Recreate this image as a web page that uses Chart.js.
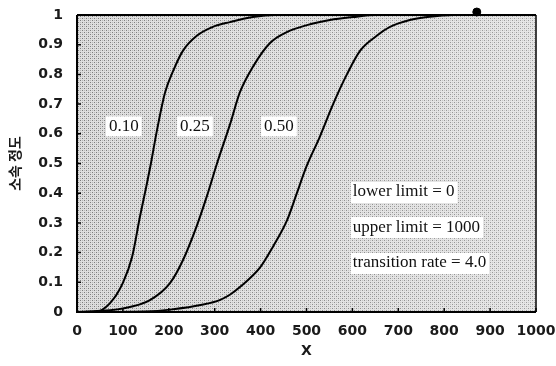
<!DOCTYPE html>
<html><head><meta charset="utf-8">
<script src="https://cdn.jsdelivr.net/npm/chart.js@4/dist/chart.umd.min.js"></script>
<style>html,body{margin:0;padding:0;background:#fff;}canvas{display:block;}</style>
</head><body>
<canvas id="c" width="556" height="366"></canvas>
<script>
// ---- data ----
const curve010X = [0, 39, 72, 100, 120, 137, 152, 161, 174, 192, 209, 231, 261, 296, 333, 383, 430, 500, 1000];
const curve010Y = [0, 0, 0.03, 0.098, 0.185, 0.32, 0.43, 0.50, 0.61, 0.74, 0.81, 0.88, 0.93, 0.96, 0.976, 0.993, 1.0, 1.0, 1.0];

const curve025X = [0, 100, 159, 203, 231, 261, 283, 305, 333, 355, 383, 420, 458, 501, 551, 601, 650, 1000];
const curve025Y = [0, 0.012, 0.04, 0.098, 0.175, 0.29, 0.39, 0.50, 0.63, 0.74, 0.825, 0.905, 0.943, 0.966, 0.983, 0.993, 1.0, 1.0];

const curve050X = [0, 150, 203, 275, 312, 333, 355, 399, 427, 458, 479, 500, 529, 558, 588, 617, 653, 682, 725, 763, 820, 1000];
const curve050Y = [0, 0.002, 0.008, 0.025, 0.041, 0.058, 0.084, 0.15, 0.22, 0.31, 0.40, 0.49, 0.59, 0.70, 0.80, 0.88, 0.93, 0.96, 0.983, 0.993, 1.0, 1.0];

const markerX = [871];
const markerY = [1.01];

const curveLabels = ['0.10', '0.25', '0.50'];
const curveLabelX = [102, 257, 440];
const curveLabelY = [0.625, 0.625, 0.625];

const noteTexts = ['lower limit = 0', 'upper limit = 1000', 'transition rate = 4.0'];
const noteX = [601, 601, 601];
const noteY = [0.404, 0.286, 0.165];

const xTicks = [0, 100, 200, 300, 400, 500, 600, 700, 800, 900, 1000];
const xTickLabels = ['0', '100', '200', '300', '400', '500', '600', '700', '800', '900', '1000'];
const yTicks = [0, 0.1, 0.2, 0.3, 0.4, 0.5, 0.6, 0.7, 0.8, 0.9, 1];
const yTickLabels = ['0', '0.1', '0.2', '0.3', '0.4', '0.5', '0.6', '0.7', '0.8', '0.9', '1'];
const xTitle = 'X';
const yTitle = '소속 정도';

// ---- helpers ----
const toPts = (xs, ys) => xs.map((x, i) => ({x: x, y: ys[i]}));

function makePattern(ctx) {
  const p = document.createElement('canvas');
  p.width = 4; p.height = 4;
  const g = p.getContext('2d');
  g.fillStyle = '#dedede';
  g.fillRect(0, 0, 4, 4);
  g.fillStyle = '#7c7c7c';
  g.fillRect(0, 0, 1, 1);
  g.fillRect(2, 2, 1, 1);
  g.fillStyle = '#b8b8b8';
  g.fillRect(2, 0, 1, 1);
  g.fillRect(0, 2, 1, 1);
  return ctx.createPattern(p, 'repeat');
}

const decor = {
  id: 'decor',
  beforeDatasetsDraw(chart) {
    const {ctx, chartArea: a} = chart;
    ctx.save();
    ctx.fillStyle = makePattern(ctx);
    ctx.fillRect(a.left, a.top, a.right - a.left, a.bottom - a.top);
    const gr = ctx.createLinearGradient(a.left, 0, a.right, 0);
    gr.addColorStop(0, 'rgba(255,255,255,0)');
    gr.addColorStop(1, 'rgba(255,255,255,0.25)');
    ctx.fillStyle = gr;
    ctx.fillRect(a.left, a.top, a.right - a.left, a.bottom - a.top);
    ctx.restore();
  },
  afterDatasetsDraw(chart) {
    const {ctx} = chart;
    const xs = chart.scales.x, ys = chart.scales.y;
    ctx.save();
    ctx.textBaseline = 'middle';
    ctx.font = '17px "Liberation Serif", "DejaVu Serif", serif';
    ctx.textAlign = 'center';
    curveLabels.forEach((t, i) => {
      const px = xs.getPixelForValue(curveLabelX[i]);
      const py = ys.getPixelForValue(curveLabelY[i]);
      const w = ctx.measureText(t).width;
      ctx.fillStyle = '#ffffff';
      ctx.fillRect(px - w / 2 - 3, py - 10, w + 6, 20);
      ctx.fillStyle = '#111';
      ctx.fillText(t, px, py);
    });
    ctx.font = '17px "Liberation Serif", "DejaVu Serif", serif';
    ctx.textAlign = 'left';
    noteTexts.forEach((t, i) => {
      const px = xs.getPixelForValue(noteX[i]);
      const py = ys.getPixelForValue(noteY[i]);
      const w = ctx.measureText(t).width;
      ctx.fillStyle = '#ffffff';
      ctx.fillRect(px - 2, py - 10, w + 5, 21);
      ctx.fillStyle = '#111';
      ctx.fillText(t, px, py);
    });
    ctx.restore();
  },
  afterDraw(chart) {
    const {ctx, chartArea: a} = chart;
    const xs = chart.scales.x, ys = chart.scales.y;
    ctx.save();
    ctx.strokeStyle = '#000';
    ctx.lineWidth = 1.5;
    ctx.beginPath();
    ctx.moveTo(a.right, a.top); ctx.lineTo(a.right, a.bottom);
    ctx.stroke();
    ctx.lineWidth = 2;
    ctx.beginPath();
    ctx.moveTo(a.left, a.top); ctx.lineTo(a.right, a.top);
    ctx.moveTo(a.left, a.top); ctx.lineTo(a.left, a.bottom); ctx.lineTo(a.right, a.bottom);
    ctx.stroke();
    ctx.lineWidth = 1.5;
    ctx.beginPath();
    yTicks.forEach(v => {
      const py = ys.getPixelForValue(v);
      ctx.moveTo(a.left, py); ctx.lineTo(a.left + 4, py);
    });
    xTicks.forEach(v => {
      const px = xs.getPixelForValue(v);
      ctx.moveTo(px, a.bottom); ctx.lineTo(px, a.bottom - 4);
    });
    ctx.stroke();
    ctx.restore();
  }
};

const lineDs = (xs, ys) => ({
  data: toPts(xs, ys),
  showLine: true,
  borderColor: '#000',
  borderWidth: 2,
  pointRadius: 0,
  cubicInterpolationMode: 'monotone',
  fill: false
});

const tickFont = {family: '"DejaVu Sans", sans-serif', size: 14, weight: 'bold'};
const zeroPad = s => { s.paddingLeft = 0; s.paddingRight = 0; s.paddingTop = 0; s.paddingBottom = 0; };

new Chart(document.getElementById('c'), {
  type: 'scatter',
  data: {
    datasets: [
      lineDs(curve010X, curve010Y),
      lineDs(curve025X, curve025Y),
      lineDs(curve050X, curve050Y),
      {data: toPts(markerX, markerY), pointRadius: 4, pointBackgroundColor: '#000', pointBorderColor: '#000', clip: false}
    ]
  },
  plugins: [decor],
  options: {
    responsive: false,
    animation: false,
    layout: {padding: {left: 0, right: 20, top: 15, bottom: 0}},
    plugins: {legend: {display: false}, tooltip: {enabled: false}},
    scales: {
      x: {
        type: 'linear', min: 0, max: 1000,
        afterFit: s => { s.height = 54; zeroPad(s); },
        afterBuildTicks: s => { s.ticks = xTicks.map(v => ({value: v})); },
        grid: {display: false, drawTicks: false},
        border: {display: false},
        ticks: {color: '#1a1a1a', font: tickFont, padding: 11, maxRotation: 0, autoSkip: false,
                callback: (v, i) => xTickLabels[i]},
        title: {display: true, text: xTitle, color: '#1a1a1a', font: {family: '"DejaVu Sans", sans-serif', size: 14, weight: 'bold'}, padding: {top: 0, bottom: 6}}
      },
      y: {
        type: 'linear', min: 0, max: 1,
        afterFit: s => { s.width = 77; zeroPad(s); },
        afterBuildTicks: s => { s.ticks = yTicks.map(v => ({value: v})); },
        grid: {display: false, drawTicks: false},
        border: {display: false},
        ticks: {color: '#1a1a1a', font: tickFont, padding: 14, autoSkip: false,
                callback: (v, i) => yTickLabels[i]},
        title: {display: true, text: yTitle, color: '#1a1a1a', font: {family: '"Noto Sans CJK KR", sans-serif', size: 14, weight: 'bold'}, padding: {top: 6, bottom: 0}}
      }
    }
  }
});
</script>
</body></html>
